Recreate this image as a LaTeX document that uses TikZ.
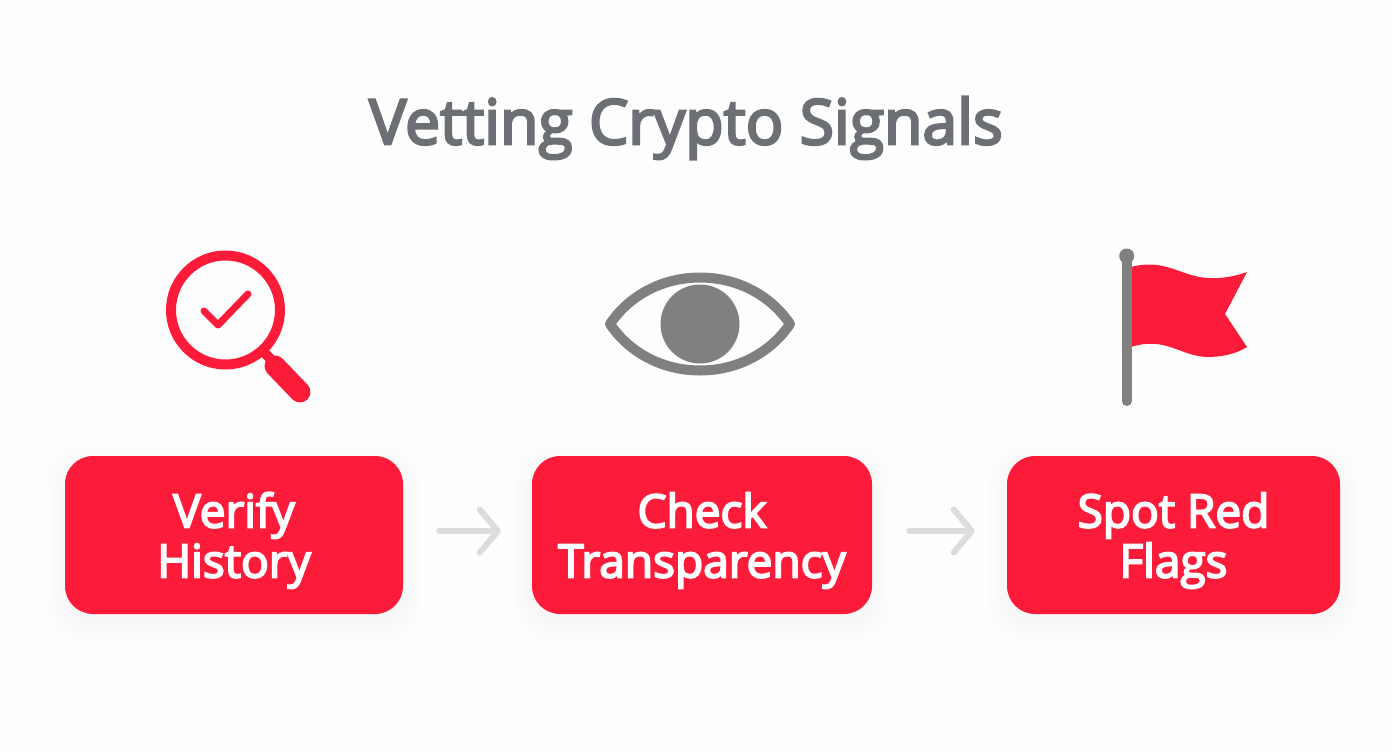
\documentclass[tikz,border=0pt]{standalone}
\usepackage{fontspec}
\setmainfont[RawFeature={embolden=4}]{Open Sans}
\usetikzlibrary{arrows.meta}
\definecolor{signalred}{HTML}{FC1C3A}
\definecolor{icongray}{HTML}{808080}
\definecolor{titlegray}{HTML}{6C6F74}
\definecolor{arrowgray}{HTML}{DCDCDC}
\newcommand{\steptop}{\rule{0pt}{46pt}}
\tikzset{
    stepbox/.style={fill=signalred,rounded corners=28pt,inner sep=0pt,minimum height=158pt,
        text=white,align=center,font=\fontsize{46}{50}\selectfont},
    stepshadow/.style={fill=black,opacity=0.003,rounded corners=34pt},
    steparrow/.style={arrowgray,line width=6pt,line cap=round,
        -{Straight Barb[length=18pt,width=43pt,round]}},
    iconred/.style={signalred,line cap=round,line join=round},
    icongrayline/.style={icongray,line cap=round,line join=round}
}
\begin{document}
\begin{tikzpicture}[x=1pt,y=-1pt]
    \useasboundingbox(0,0)rectangle(1392,752);
    \fill[white!99.5!black](0,0)rectangle(1392,752);
    % soft shadows under the boxes
    \foreach \a/\b in {65/403,532/872,1007/1340}{
        \foreach \g in {2,5,...,20}{
            \fill[stepshadow](\a-\g,456+8-\g)rectangle(\b+\g,614+8+\g);
        }
    }
    \node(title)[text=titlegray,font=\fontsize{62.5}{60}\selectfont]at(686,128){Vetting Crypto Signals};
    \node(verify)[stepbox,minimum width=338pt]at(234,535){\steptop Verify\\History};
    \node(check)[stepbox,minimum width=340pt]at(702,535){\steptop Check\\Transparency};
    \node(spot)[stepbox,minimum width=333pt]at(1173.5,535){\steptop Spot Red\\Flags};
    \draw[steparrow,shorten <=36pt,shorten >=31pt]([yshift=4pt]verify.east)--([yshift=4pt]check.west);
    \draw[steparrow,shorten <=37pt,shorten >=32pt]([yshift=4pt]check.east)--([yshift=4pt]spot.west);
    % magnifier
    \draw[signalred,line width=10pt](225.5,310)circle(54.5);
    \draw[signalred,line width=10pt](263,351)--(276,365);
    \draw[iconred,line width=21pt](275,366)--(300,392);
    \draw[iconred,line width=7pt](204,311)--(218,325)--(248,294);
    % eye
    \draw[icongrayline,line width=10pt](610,324)..controls(652,262)and(748,262)..(790,324)
        ..controls(748,386)and(652,386)..cycle;
    \fill[icongray](700,324)circle(39.5);
    % flag
    \fill[signalred](1131,267)..controls(1165,258)and(1180,276)..(1207,278)
        ..controls(1222,279)and(1236,276)..(1247,272)--(1225,314)--(1247,347)
        ..controls(1236,354)and(1222,357)..(1207,357)
        ..controls(1180,356)and(1165,336)..(1131,347)--cycle;
    \draw[icongrayline,line width=10pt](1126.7,258)--(1126.7,401);
    \fill[icongray](1126.7,256)circle(7.5);
\end{tikzpicture}
\end{document}
